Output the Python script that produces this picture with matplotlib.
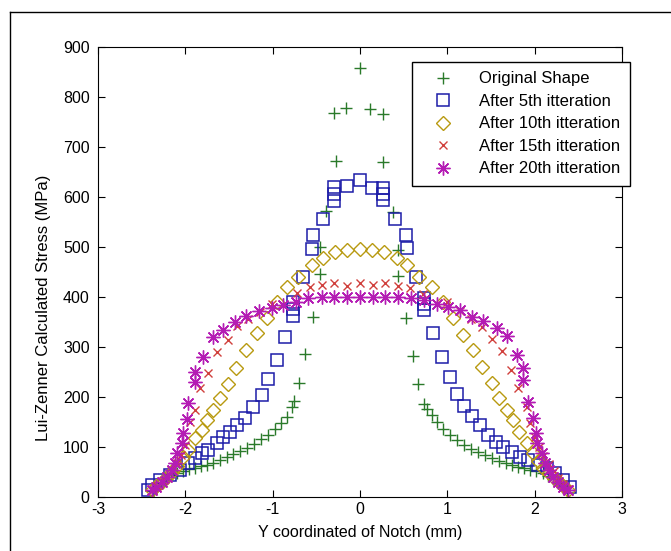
import matplotlib
matplotlib.use('Agg')
import matplotlib.pyplot as plt
from matplotlib.lines import Line2D

plt.rcParams['font.family'] = ['Liberation Sans', 'DejaVu Sans']
plt.rcParams['axes.unicode_minus'] = False

# Original Shape
orig_x = [-2.38, -2.33, -2.28, -2.22, -2.16, -2.10, -2.03, -1.96, -1.89, -1.82, -1.75,
          -1.68, -1.60, -1.52, -1.45, -1.37, -1.29, -1.21, -1.13, -1.05, -0.97, -0.90,
          -0.84, -0.78, -0.76, -0.70, -0.63, -0.54, -0.46, -0.46, -0.39, -0.27, -0.30,
          -0.16, 0.00, 0.12, 0.26, 0.26, 0.38, 0.44, 0.44, 0.53, 0.61, 0.66, 0.73, 0.77,
          0.82, 0.88, 0.95, 1.03, 1.11, 1.19, 1.27, 1.35, 1.43, 1.51, 1.59, 1.67, 1.74,
          1.81, 1.88, 1.95, 2.02, 2.09, 2.15, 2.21, 2.27, 2.32, 2.37]
orig_y = [12, 20, 28, 36, 43, 48, 52, 55, 58, 61, 64,
          68, 73, 79, 86, 92, 98, 106, 115, 124, 135, 147,
          160, 180, 192, 228, 285, 360, 445, 500, 572, 672, 768,
          778, 858, 775, 766, 670, 570, 494, 442, 358, 282, 226, 186, 176,
          164, 150, 136, 124, 114, 104, 96, 90, 84, 78, 72, 67, 63,
          60, 57, 54, 51, 47, 42, 35, 28, 20, 13]

# After 5th itteration
it5_x = [-2.43, -2.38, -2.29, -2.18, -2.06, -1.97, -1.89, -1.81, -1.74, -1.64, -1.57,
         -1.49, -1.41, -1.32, -1.22, -1.12, -1.05, -0.95, -0.86, -0.77, -0.77, -0.77,
         -0.65, -0.55, -0.54, -0.42, -0.30, -0.30, -0.30, -0.15, 0.00, 0.14, 0.26, 0.26,
         0.26, 0.40, 0.53, 0.54, 0.64, 0.73, 0.73, 0.73, 0.84, 0.94, 1.03, 1.11, 1.19,
         1.28, 1.37, 1.47, 1.56, 1.64, 1.74, 1.83, 1.92, 2.04, 2.14, 2.23, 2.33, 2.41]
it5_y = [14, 24, 34, 44, 54, 68, 78, 88, 94, 108, 120,
         130, 144, 158, 180, 204, 236, 274, 320, 390, 376, 362,
         440, 496, 524, 556, 620, 606, 592, 622, 634, 618, 618, 606,
         594, 556, 524, 498, 440, 398, 386, 374, 328, 280, 240, 206, 182,
         162, 144, 124, 110, 100, 90, 80, 74, 64, 58, 48, 34, 20]

# After 10th itteration
it10_x = [-2.38, -2.33, -2.27, -2.21, -2.15, -2.09, -2.03, -1.97, -1.89, -1.81, -1.75,
          -1.68, -1.60, -1.51, -1.42, -1.31, -1.18, -1.07, -0.95, -0.83, -0.71, -0.55,
          -0.42, -0.29, -0.15, 0.00, 0.14, 0.27, 0.42, 0.54, 0.68, 0.82, 0.95, 1.07,
          1.18, 1.29, 1.40, 1.51, 1.59, 1.68, 1.75, 1.82, 1.91, 1.98, 2.04, 2.10, 2.16,
          2.22, 2.28, 2.33, 2.38]
it10_y = [14, 22, 30, 40, 50, 62, 80, 94, 118, 134, 154,
          174, 198, 226, 258, 294, 328, 358, 390, 420, 440, 464,
          478, 490, 494, 496, 494, 490, 478, 464, 440, 420, 390, 358,
          324, 294, 260, 228, 198, 174, 154, 130, 108, 88, 72, 58, 48,
          38, 30, 22, 14]

# After 15th itteration
it15_x = [-2.37, -2.32, -2.27, -2.22, -2.16, -2.10, -2.05, -2.00, -1.95, -1.89, -1.83,
          -1.74, -1.64, -1.51, -1.41, -1.28, -1.15, -1.01, -0.72, -0.57, -0.44, -0.30,
          -0.15, 0.00, 0.15, 0.29, 0.44, 0.57, 0.72, 1.00, 1.14, 1.27, 1.40, 1.51, 1.63,
          1.73, 1.81, 1.91, 1.95, 2.00, 2.05, 2.10, 2.16, 2.22, 2.27, 2.32, 2.37]
it15_y = [14, 22, 32, 42, 54, 68, 84, 104, 150, 174, 218,
          248, 290, 314, 342, 356, 370, 386, 408, 420, 424, 428,
          422, 428, 424, 428, 422, 418, 406, 390, 372, 356, 340, 316, 292,
          254, 218, 180, 148, 120, 100, 82, 66, 52, 38, 26, 16]

# After 20th itteration
it20_x = [-2.38, -2.33, -2.27, -2.21, -2.15, -2.12, -2.09, -2.04, -2.03, -1.98, -1.97,
          -1.89, -1.89, -1.80, -1.68, -1.57, -1.43, -1.30, -1.16, -1.01, -0.88, -0.73,
          -0.59, -0.44, -0.30, -0.15, 0.00, 0.15, 0.29, 0.44, 0.58, 0.73, 0.88, 1.01,
          1.15, 1.28, 1.41, 1.57, 1.68, 1.80, 1.87, 1.87, 1.92, 1.98, 2.02, 2.03, 2.08,
          2.12, 2.16, 2.21, 2.27, 2.33, 2.38]
it20_y = [14, 20, 30, 40, 54, 68, 88, 108, 128, 156, 188,
          230, 250, 280, 320, 334, 350, 362, 372, 378, 384, 390,
          398, 400, 400, 400, 400, 400, 400, 400, 398, 394, 386, 380,
          374, 360, 352, 338, 322, 284, 258, 234, 190, 158, 128, 108, 88,
          68, 54, 40, 30, 20, 14]

fig = plt.figure(figsize=(6.71, 5.51), dpi=100)
ax = fig.add_axes([0.146, 0.098, 0.781, 0.817])

ax.plot(orig_x, orig_y, '+', color='#2a7a2a', ms=8, mew=1.0, label='Original Shape')
ax.plot(it5_x, it5_y, 's', mfc='none', mec='#1c1ca8', ms=9, mew=1.1, label='After 5th itteration')
ax.plot(it10_x, it10_y, 'D', mfc='none', mec='#b89a10', ms=7, mew=1.0, label='After 10th itteration')
ax.plot(it15_x, it15_y, 'x', color='#d0403c', ms=6, mew=1.0, label='After 15th itteration')
ax.plot(it20_x, it20_y, marker=(8, 2, 0), ls='none', color='#b41cb4', ms=10, mew=1.0,
        label='After 20th itteration')

ax.set_xlim(-3, 3)
ax.set_ylim(0, 900)
ax.set_xticks(range(-3, 4))
ax.set_yticks(range(0, 901, 100))
ax.tick_params(direction='in', top=True, right=True, length=5, labelsize=11.5)
ax.tick_params(axis='y', pad=6)
ax.set_xlabel('Y coordinated of Notch (mm)', fontsize=11.5, labelpad=6)
ax.set_ylabel('Lui-Zenner Calculated Stress (MPa)', fontsize=12)
ax.yaxis.set_label_coords(-0.09, 0.42)

leg = ax.legend(loc='upper left', bbox_to_anchor=(0.614, 0.887), bbox_transform=fig.transFigure,
                fontsize=12, fancybox=False, edgecolor='black', framealpha=1,
                borderpad=0.55, labelspacing=0.45, handlelength=2.6, handletextpad=0.9,
                borderaxespad=0)
leg.get_frame().set_linewidth(1.0)

# outer frame of the figure window
fig.add_artist(Line2D([10 / 671, 10 / 671], [0, 1 - 12 / 551], transform=fig.transFigure, color='black', lw=1))
fig.add_artist(Line2D([10 / 671, 1], [1 - 12 / 551, 1 - 12 / 551], transform=fig.transFigure, color='black', lw=1))

fig.savefig('out.png', dpi=100)
